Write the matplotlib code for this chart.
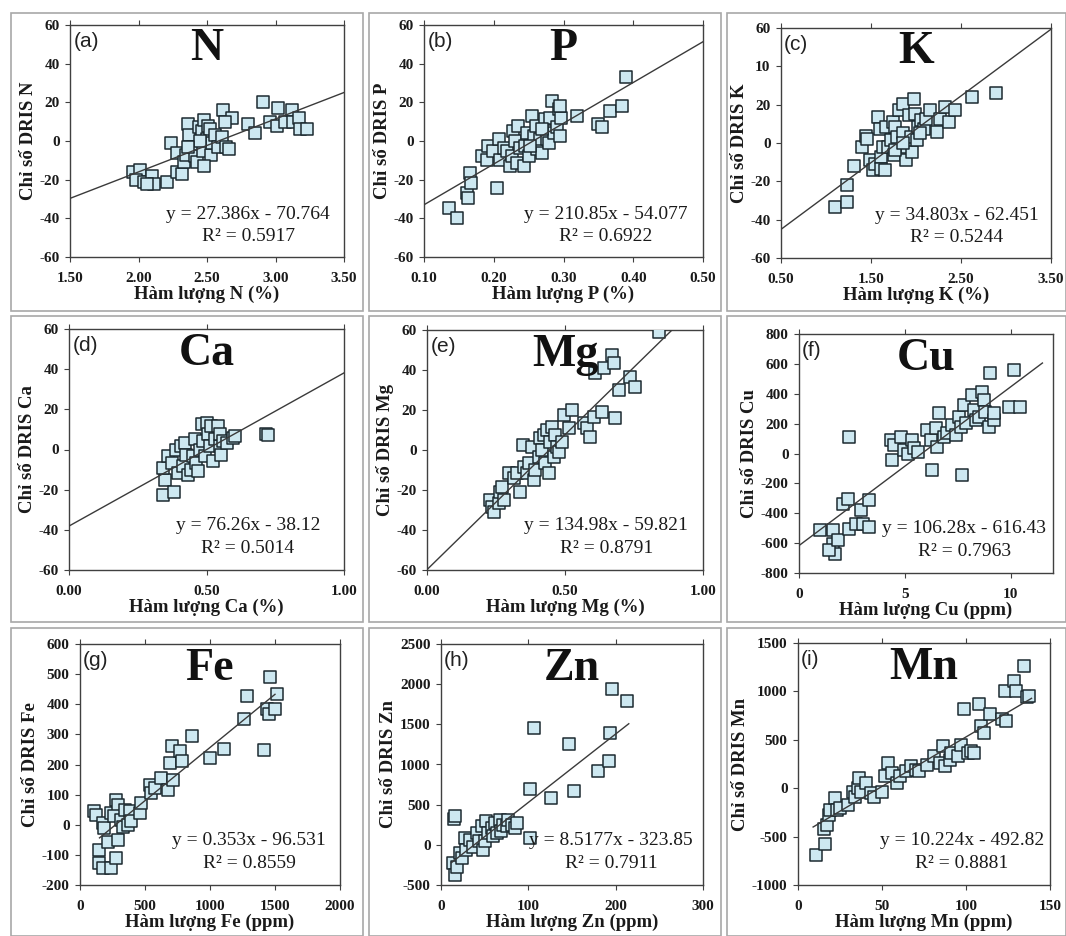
import matplotlib
matplotlib.use("Agg")
import matplotlib.pyplot as plt
from matplotlib.patches import Rectangle

plt.rcParams['font.family'] = ['Liberation Serif', 'DejaVu Serif']

# ---- data ----
elements = ['N', 'P', 'K', 'Ca', 'Mg', 'Cu', 'Fe', 'Zn', 'Mn']
tags = ['(a)', '(b)', '(c)', '(d)', '(e)', '(f)', '(g)', '(h)', '(i)']
units = ['%', '%', '%', '%', '%', 'ppm', 'ppm', 'ppm', 'ppm']
equations = ['y = 27.386x - 70.764', 'y = 210.85x - 54.077', 'y = 34.803x - 62.451',
             'y = 76.26x - 38.12', 'y = 134.98x - 59.821', 'y = 106.28x - 616.43',
             'y = 0.353x - 96.531', 'y = 8.5177x - 323.85', 'y = 10.224x - 492.82']
slopes = [27.386, 210.85, 34.803, 76.26, 134.98, 106.28, 0.353, 8.5177, 10.224]
intercepts = [-70.764, -54.077, -62.451, -38.12, -59.821, -616.43, -96.531, -323.85, -492.82]
r_squared = ['0.5917', '0.6922', '0.5244', '0.5014', '0.8791', '0.7963', '0.8559', '0.7911', '0.8881']
trend_x = [(1.5, 3.5), (0.1, 0.5), (0.5, 3.5), (0.0, 1.0), (0.0, 1.0),
           (0.0, 11.5), (150, 1500), (12, 215), (9, 139)]

x_ticks = [[1.5, 2.0, 2.5, 3.0, 3.5], [0.1, 0.2, 0.3, 0.4, 0.5], [0.5, 1.5, 2.5, 3.5],
           [0.0, 0.5, 1.0], [0.0, 0.5, 1.0], [0, 5, 10], [0, 500, 1000, 1500, 2000],
           [0, 100, 200, 300], [0, 50, 100, 150]]
x_limits = [(1.5, 3.5), (0.1, 0.5), (0.5, 3.5), (0.0, 1.0), (0.0, 1.0),
            (0, 12), (0, 2000), (0, 300), (0, 150)]
y_ticks = [[-60, -40, -20, 0, 20, 40, 60]] * 5 + [
    [-800, -600, -400, -200, 0, 200, 400, 600, 800],
    [-200, -100, 0, 100, 200, 300, 400, 500, 600],
    [-500, 0, 500, 1000, 1500, 2000, 2500],
    [-1000, -500, 0, 500, 1000, 1500]]
c_ytick_labels = ['-60', '-40', '-20', '0', '20', '10', '60']

n_x = [1.96, 2.01, 1.98, 2.04, 2.10, 2.11, 2.06, 2.21, 2.24, 2.28, 2.28, 2.32, 2.33, 2.35,
       2.36, 2.37, 2.40, 2.41, 2.43, 2.44, 2.46, 2.47, 2.48, 2.50, 2.51, 2.52, 2.53, 2.54,
       2.56, 2.58, 2.61, 2.62, 2.64, 2.66, 2.68, 2.63, 2.80, 2.85, 2.91, 2.96, 3.01, 3.02,
       3.07, 3.12, 3.13, 3.17, 3.18, 3.23, 2.45, 2.36, 2.48]
n_y = [-16, -15, -20, -21, -18, -22, -22, -21, -1, -6, -16, -17, -11, -7,
       9, 3, -3, -8, -11, 7, 5, -5, 11, 1, 8, 6, -7, -1,
       3, -3, 2, 16, -3, -4, 12, 10, 9, 4, 20, 10, 8, 17,
       10, 16, 10, 12, 6, 6, 0, -3, -13]

p_x = [0.136, 0.148, 0.162, 0.163, 0.166, 0.167, 0.183, 0.190, 0.192, 0.199, 0.204, 0.207,
       0.209, 0.214, 0.219, 0.223, 0.226, 0.228, 0.231, 0.233, 0.235, 0.238, 0.243, 0.245,
       0.247, 0.250, 0.255, 0.257, 0.260, 0.262, 0.267, 0.269, 0.274, 0.277, 0.279, 0.281,
       0.283, 0.286, 0.290, 0.294, 0.295, 0.297, 0.295, 0.320, 0.350, 0.355, 0.367, 0.384,
       0.389, 0.269, 0.252]
p_y = [-34.8, -40, -27, -29.6, -16.5, -21.7, -7.8, -9.6, -2.6, -5.2, -24.3, 1,
       -9.6, -3.5, -5.2, -13, -7.8, 5.2, 0, -11.3, 7.8, -3.5, -13, -2.6,
       4.3, -7.8, 13, 2.6, 7.8, -4.3, 1, -6, 11.3, 1, -1, 11.7,
       20.9, 4.3, 7, 16.5, 2.6, 12, 18, 13, 8.7, 7, 15.7, 18.3,
       33, 6, -2.6]

k_x = [1.10, 1.23, 1.23, 1.31, 1.40, 1.44, 1.45, 1.49, 1.52, 1.54, 1.58, 1.60, 1.61, 1.61,
       1.63, 1.65, 1.67, 1.69, 1.72, 1.74, 1.75, 1.77, 1.79, 1.81, 1.85, 1.86, 1.89, 1.90,
       1.92, 1.94, 1.96, 1.98, 1.99, 2.01, 2.02, 2.05, 2.09, 2.11, 2.16, 2.23, 2.27, 2.32,
       2.37, 2.43, 2.62, 2.89, 1.77, 1.86, 2.04]
k_y = [-33.4, -22, -30.8, -12, -2, 3.5, 2, -9, -14, -11, 13.6, 7.5, -7.3, -13.4,
       -2, -14, 8.3, -2, 1.4, 11, -6.4, 8.3, 3, 17, 20.5, 5, -9, -2,
       14.4, 3, -4.7, 23, 15, 1.4, 8.3, 12, 7.5, 12.7, 17, 5.7, 12.7, 18.8,
       11, 17, 24, 26, -3.8, 0, 5]

ca_x = [0.342, 0.348, 0.342, 0.360, 0.380, 0.373, 0.390, 0.397, 0.409, 0.415, 0.420, 0.427,
        0.433, 0.445, 0.451, 0.457, 0.463, 0.470, 0.476, 0.482, 0.488, 0.494, 0.500, 0.506,
        0.512, 0.518, 0.524, 0.530, 0.542, 0.548, 0.554, 0.548, 0.560, 0.573, 0.597, 0.603,
        0.718, 0.725]
ca_y = [-22.5, -15, -9, -3.3, -21, -6.7, 0, -11.7, 1.7, -8.3, 3.3, -2.5,
        -12.5, -10, -3.3, 5, -6.7, -10.8, 0, 12.5, 4.2, -3.3, 13.3, 7.5,
        1.7, 11.7, -5.8, 5, 11.7, 1.7, -2.5, 7.5, 4.2, 3.3, 5.8, 6.7,
        7.5, 7]

mg_x = [0.229, 0.236, 0.244, 0.260, 0.266, 0.272, 0.278, 0.296, 0.314, 0.326, 0.338, 0.348,
        0.350, 0.362, 0.368, 0.380, 0.386, 0.392, 0.404, 0.410, 0.417, 0.423, 0.429, 0.435,
        0.441, 0.447, 0.453, 0.459, 0.465, 0.471, 0.477, 0.489, 0.495, 0.513, 0.525, 0.570,
        0.580, 0.592, 0.604, 0.609, 0.634, 0.640, 0.671, 0.676, 0.682, 0.695, 0.737, 0.755,
        0.839]
mg_y = [-25, -28.3, -30.8, -26.7, -20.8, -18.3, -25, -11.7, -14.2, -11.7, -20.8, 2.5,
        -8.3, -11.7, -6.7, 1.7, -15, -10, -3.3, 5.8, 0, 7.5, -6.7, 10,
        -11.7, 4.2, 11.7, -3.3, 7.5, 1.7, -0.8, 4.2, 17.5, 10.8, 20, 13.3,
        10.8, 6.7, 16.7, 38.3, 19.2, 40.8, 47.5, 43.3, 15.8, 30, 36.7, 31.7,
        59.2]

cu_x = [0.97, 1.6, 1.6, 1.68, 1.44, 1.83, 2.07, 2.3, 2.38, 2.38, 2.7, 2.93, 3.0, 3.29,
        3.29, 4.34, 4.39, 4.5, 4.81, 4.97, 5.13, 5.36, 5.44, 5.6, 6.07, 6.22, 6.3, 6.46,
        6.54, 6.61, 6.85, 7.0, 7.24, 7.4, 7.55, 7.63, 7.7, 7.79, 7.87, 8.18, 8.26, 8.34,
        8.5, 8.65, 8.73, 8.81, 8.97, 9.04, 9.2, 9.2, 10.14, 9.9, 10.45]
cu_y = [-514, -514, -603, -670, -648, -581, -335, -302, 112, -503, -470, -380, -470, -313,
        -492, 89, -45, 56, 112, 22, 0, 89, 34, 11, 156, 89, -112, 168,
        45, 268, 112, 134, 190, 123, 246, 179, -145, 324, 201, 391, 290, 223,
        246, 413, 358, 279, 179, 536, 223, 268, 559, 313, 313]

fe_x = [111, 124, 149, 149, 175, 180, 188, 240, 214, 240, 278, 291, 291, 278, 265, 317,
        330, 343, 369, 381, 394, 459, 472, 536, 549, 575, 626, 678, 691, 704, 716, 768,
        781, 858, 1000, 1108, 1258, 1284, 1412, 1438, 1451, 1459, 1503, 1515]
fe_y = [44, 33, -83, -126, -144, 6, -11, -144, -56, 39, 83, 67, -50, -111, 28, 17,
        -6, 50, 0, 44, 11, 39, 72, 133, 106, 122, 156, 117, 206, 261, 150, 244,
        211, 294, 222, 250, 350, 428, 247, 383, 367, 489, 383, 433]

zn_x = [15, 16, 14, 16, 18, 22, 24, 27, 29, 33, 37, 41, 43, 47, 48, 50, 52, 54, 58, 60,
        62, 64, 68, 69, 71, 75, 77, 81, 85, 87, 102, 102, 106, 126, 146, 152, 180, 192,
        194, 196, 213]
zn_y = [325, 354, -229, -375, -271, -104, -167, 83, -62, 62, -21, 146, 42, 229, -62, 42,
        292, 146, 208, 104, 271, 146, 312, 167, 250, 229, 312, 250, 208, 271, 83, 696,
        1458, 583, 1250, 667, 917, 1042, 1396, 1938, 1792]

mn_x = [10.6, 16.3, 15.4, 17.3, 18.3, 19.2, 22.1, 23.1, 25, 29.8, 32.7, 33.7, 35.6, 36.5,
        37.5, 40.4, 43.3, 45.2, 50, 51.9, 53.8, 55.8, 58.7, 60.6, 64.4, 67.3, 70.2, 72.1,
        76.9, 80.8, 84.6, 86.5, 87.5, 90.4, 91.3, 95.2, 97.1, 99, 100.9, 102.9, 104.8,
        107.7, 108.7, 110.6, 114.4, 121.2, 123.1, 124, 128.8, 129.8, 134.6, 136.5, 137.5]
mn_y = [-694, -580, -417, -382, -278, -226, -104, -226, -208, -174, -35, -87, 0, 104,
        -35, 52, -52, -87, -35, 122, 260, 156, 52, 122, 174, 226, 191, 174,
        243, 330, 260, 434, 226, 295, 365, 330, 451, 823, 365, 382, 365,
        868, 642, 573, 764, 712, 1007, 694, 1111, 1007, 1267, 937, 955]

xs = [n_x, p_x, k_x, ca_x, mg_x, cu_x, fe_x, zn_x, mn_x]
ys = [n_y, p_y, k_y, ca_y, mg_y, cu_y, fe_y, zn_y, mn_y]

# ---- layout (pixel boxes: left, top, right, bottom) ----
W, H = 1066, 936
axes_px = [(70, 25, 344, 257), (424, 25, 703, 257), (781, 28, 1051, 258),
           (69, 329, 344, 570), (427, 330, 703, 570), (799, 334, 1053, 573),
           (80, 644, 340, 885), (441, 644, 703, 885), (798, 643, 1050, 885)]
frames_px = [(11, 13, 363, 311), (369, 13, 721, 311), (727, 13, 1066, 311),
             (11, 316, 363, 622), (369, 316, 721, 622), (727, 316, 1066, 622),
             (11, 628, 363, 936), (369, 628, 721, 936), (727, 628, 1066, 936)]

fig = plt.figure(figsize=(W / 100, H / 100), dpi=100)
fig.patch.set_facecolor('white')

for l, t, r, b in frames_px:
    fig.patches.append(Rectangle((l / W, 1 - b / H), (r - l) / W, (b - t) / H,
                                 transform=fig.transFigure, fill=False,
                                 edgecolor='#a8a8a8', linewidth=1.2))

for i, (l, t, r, b) in enumerate(axes_px):
    ax = fig.add_axes([l / W, 1 - b / H, (r - l) / W, (b - t) / H])
    ax.scatter(xs[i], ys[i], marker='s', s=85, facecolor='#cde8f1',
               edgecolor='#1c2a30', linewidths=1.1, zorder=3)
    x0, x1 = trend_x[i]
    ax.plot([x0, x1], [slopes[i] * x0 + intercepts[i], slopes[i] * x1 + intercepts[i]],
            color='#3a3a3a', linewidth=1.0, zorder=4)

    ax.set_xlim(*x_limits[i])
    ax.set_ylim(y_ticks[i][0], y_ticks[i][-1])
    ax.set_xticks(x_ticks[i])
    ax.set_yticks(y_ticks[i])
    if i < 5:
        ax.set_xticklabels(['%.2f' % v for v in x_ticks[i]])
    else:
        ax.set_xticklabels([str(v) for v in x_ticks[i]])
    if i == 2:
        ax.set_yticklabels(c_ytick_labels)
    else:
        ax.set_yticklabels([str(v) for v in y_ticks[i]])

    for sp in ax.spines.values():
        sp.set_color('#404040')
        sp.set_linewidth(1.0)
    ax.tick_params(axis='both', direction='out', length=3.5, width=0.8, color='#404040',
                   labelsize=11, labelcolor='#1a1a1a')
    ax.tick_params(axis='x', top=True, pad=7)
    ax.tick_params(axis='y', pad=4)
    for lab in ax.get_xticklabels() + ax.get_yticklabels():
        lab.set_fontweight('bold')

    ax.set_xlabel('Hàm lượng %s (%s)' % (elements[i], units[i]), fontsize=13.5,
                  fontweight='bold', labelpad=1, color='#1a1a1a')
    ax.set_ylabel('Chỉ số DRIS %s' % elements[i], fontsize=13.5,
                  fontweight='bold', labelpad=2, color='#1a1a1a')

    ax.text(0.012, 0.93, tags[i], transform=ax.transAxes, fontsize=15,
            family=['Liberation Sans', 'DejaVu Sans'], va='center', ha='left', color='#222222')
    ax.text(0.5, 0.895, elements[i], transform=ax.transAxes, fontsize=33,
            fontweight='bold', va='center', ha='center', color='#111111')
    ax.text(0.65, 0.185, equations[i], transform=ax.transAxes, fontsize=14,
            va='center', ha='center', color='#1a1a1a', zorder=5)
    ax.text(0.65, 0.09, 'R² = ' + r_squared[i], transform=ax.transAxes, fontsize=14,
            va='center', ha='center', color='#1a1a1a', zorder=5)

fig.savefig('out.png', dpi=100, facecolor='white')
